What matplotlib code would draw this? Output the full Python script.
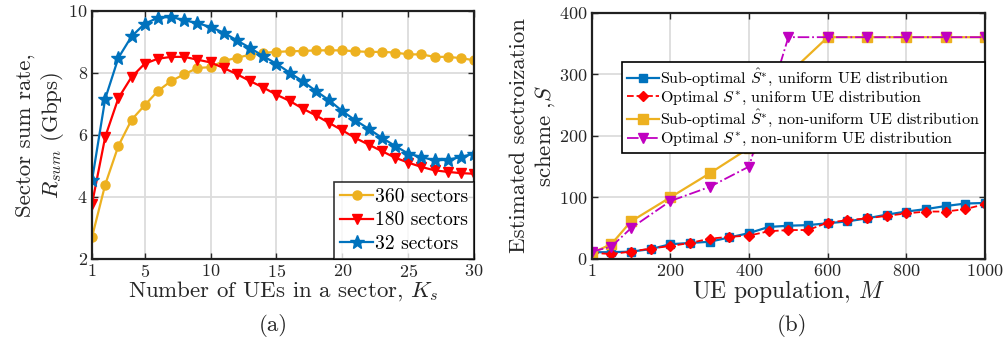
import matplotlib
matplotlib.use("Agg")
import matplotlib.pyplot as plt

plt.rcParams['font.family'] = ['cmr10', 'DejaVu Serif']
plt.rcParams['mathtext.fontset'] = 'cm'
plt.rcParams['axes.formatter.use_mathtext'] = True
plt.rcParams['axes.unicode_minus'] = False

TXT = '#262626'

# ---- panel (a): sector sum rate vs users per sector ----
k_users = list(range(1, 31))
rate_360 = [2.71, 4.40, 5.65, 6.49, 6.96, 7.42, 7.74, 7.96, 8.16, 8.19,
            8.39, 8.49, 8.59, 8.65, 8.68, 8.70, 8.71, 8.73, 8.73, 8.73,
            8.70, 8.68, 8.68, 8.66, 8.60, 8.60, 8.52, 8.52, 8.48, 8.41]
rate_180 = [3.78, 5.94, 7.19, 7.87, 8.30, 8.46, 8.52, 8.52, 8.43, 8.34,
            8.16, 7.96, 7.74, 7.53, 7.30, 7.10, 6.85, 6.63, 6.39, 6.15,
            5.90, 5.69, 5.48, 5.27, 5.11, 4.97, 4.86, 4.81, 4.77, 4.75]
rate_32 = [4.54, 7.17, 8.49, 9.18, 9.59, 9.78, 9.81, 9.70, 9.61, 9.48,
           9.30, 9.05, 8.81, 8.54, 8.30, 8.01, 7.73, 7.42, 7.12, 6.77,
           6.47, 6.20, 5.91, 5.65, 5.40, 5.29, 5.18, 5.20, 5.29, 5.40]

# ---- panel (b): sectorization scheme vs UE population ----
m_uniform = [1, 50, 100, 150, 200, 250, 300, 350, 400, 450, 500,
             550, 600, 650, 700, 750, 800, 850, 900, 950, 1000]
subopt_uniform = [11, 11, 12, 16, 24, 26, 28, 35, 42, 52, 54,
                  55, 58, 61, 66, 72, 77, 81, 86, 90, 91]
opt_uniform = [10, 8, 12, 17, 21, 26, 33, 36, 38, 45, 47,
               47, 59, 63, 66, 70, 74, 77, 77, 81, 89]
m_nonuni = [1, 50, 100, 200, 300, 400, 500, 600, 700, 800, 900, 1000]
subopt_nonuni = [10, 24, 61, 100, 139, 180, 300, 360, 360, 360, 360, 360]
opt_nonuni = [12, 20, 50, 94, 117, 150, 360, 360, 360, 360, 360, 360]

fig = plt.figure(figsize=(10.06, 3.39), dpi=100)
ax1 = fig.add_axes([0.0915, 0.236, 0.3797, 0.7316])
ax2 = fig.add_axes([0.5885, 0.236, 0.3907, 0.727])


def style_axes(ax):
    ax.grid(True, color='#dcdcdc', linewidth=1.3)
    ax.set_axisbelow(True)
    for s in ax.spines.values():
        s.set_linewidth(1.6)
        s.set_color('#202020')
    ax.tick_params(direction='in', length=4, width=1.0, top=True, right=True,
                   labelsize=13, colors=TXT, pad=3)


# panel (a)
ax1.plot(k_users, rate_360, '-o', color='#EDB120', lw=1.6, ms=6.5,
         label='360 sectors')
ax1.plot(k_users, rate_180, '-v', color='#FF0000', lw=1.6, ms=7.5,
         label='180 sectors')
ax1.plot(k_users, rate_32, '-*', color='#0072BD', lw=1.6, ms=10.5,
         label='32 sectors')
ax1.set_xlim(1, 30)
ax1.set_ylim(2, 10)
ax1.set_xticks([1, 5, 10, 15, 20, 25, 30])
ax1.set_yticks([2, 4, 6, 8, 10])
style_axes(ax1)
ax1.set_xlabel(r'Number of UEs in a sector, $K_s$', fontsize=16.5, color=TXT,
               labelpad=-1)
ax1.set_ylabel('Sector sum rate,\n' + r'$R_{sum}$ (Gbps)', fontsize=16.5,
               color=TXT, linespacing=1.2, labelpad=2)
leg1 = ax1.legend(loc='lower right', fontsize=14, frameon=True, fancybox=False,
                  edgecolor='black', borderaxespad=0, handlelength=1.7,
                  handletextpad=0.1, labelspacing=0.3, borderpad=0.3)
leg1.get_frame().set_linewidth(1.2)

# panel (b)
ax2.plot(m_uniform, subopt_uniform, '-s', color='#0072BD', lw=1.6, ms=5.5,
         label=r'Sub-optimal $\hat{S}^{*}$, uniform UE distribution')
ax2.plot(m_uniform, opt_uniform, '--D', color='#FF0000', lw=1.3, ms=5.5,
         label=r'Optimal $S^{*}$, uniform UE distribution')
ax2.plot(m_nonuni, subopt_nonuni, '-s', color='#EDB120', lw=1.6, ms=7,
         label=r'Sub-optimal $\hat{S}^{*}$, non-uniform UE distribution')
ax2.plot(m_nonuni, opt_nonuni, '-.v', color='#C000C0', lw=1.3, ms=7.5,
         label=r'Optimal $S^{*}$, non-uniform UE distribution')
ax2.set_xlim(1, 1000)
ax2.set_ylim(0, 400)
ax2.set_xticks([1, 200, 400, 600, 800, 1000])
ax2.set_yticks([0, 100, 200, 300, 400])
style_axes(ax2)
ax2.set_xlabel(r'UE population, $M$', fontsize=17, color=TXT, labelpad=-1)
ax2.set_ylabel('Estimated sectroization\n' + r'scheme ,$S$', fontsize=16.5,
               color=TXT, linespacing=1.2, labelpad=2)
leg2 = ax2.legend(loc='upper right', bbox_to_anchor=(1.0, 0.8), fontsize=11.5,
                  frameon=True, fancybox=False, edgecolor='black',
                  borderaxespad=0, handlelength=2.0, handletextpad=0.1,
                  labelspacing=0.05, borderpad=0.3, framealpha=1)
leg2.get_frame().set_linewidth(1.2)

fig.text(0.272, 0.04, '(a)', fontsize=16.5, color=TXT, ha='center', va='center')
fig.text(0.787, 0.04, '(b)', fontsize=16.5, color=TXT, ha='center', va='center')

fig.savefig('out.png', dpi=100)
